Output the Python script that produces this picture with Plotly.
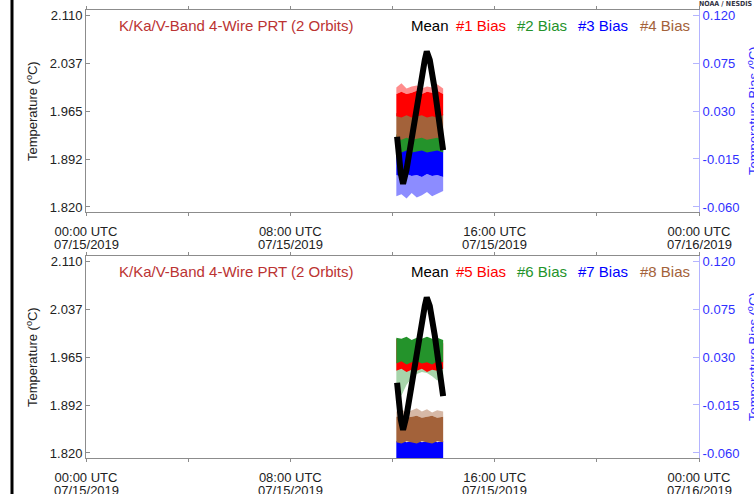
import plotly.graph_objects as go

# ---------------------------------------------------------------- data
X_RANGE = ["2019-07-15 00:00", "2019-07-16 00:00"]
X_TICKS = ["2019-07-15 00:00", "2019-07-15 08:00", "2019-07-15 16:00", "2019-07-16 00:00"]
X_TICK_TIME = ["00:00 UTC", "08:00 UTC", "16:00 UTC", "00:00 UTC"]
X_TICK_DATE = ["07/15/2019", "07/15/2019", "07/15/2019", "07/16/2019"]
X_MINOR_TICKS = ["2019-07-15 04:00", "2019-07-15 12:00", "2019-07-15 20:00"]

TEMP_TICKS = [1.820, 1.892, 1.965, 2.037, 2.110]
TEMP_TICK_TEXT = ["1.820", "1.892", "1.965", "2.037", "2.110"]
BIAS_TICKS = [-0.060, -0.015, 0.030, 0.075, 0.120]
BIAS_TICK_TEXT = ["-0.060", "-0.015", "0.030", "0.075", "0.120"]

# mean 4-wire PRT temperature over the two orbits (deg C)
MEAN_TIME = ["2019-07-15 12:10:45", "2019-07-15 12:15:25", "2019-07-15 12:19:25",
             "2019-07-15 12:24:50", "2019-07-15 12:32:50", "2019-07-15 12:44:35",
             "2019-07-15 12:56:20", "2019-07-15 13:08:05", "2019-07-15 13:15:50",
             "2019-07-15 13:20:30", "2019-07-15 13:27:35", "2019-07-15 13:39:25",
             "2019-07-15 13:49:25", "2019-07-15 13:57:30", "2019-07-15 13:58:55"]
MEAN_TEMP = [1.926, 1.891, 1.871, 1.855, 1.876, 1.921, 1.972, 2.017, 2.042,
             2.055, 2.042, 1.997, 1.956, 1.916, 1.906]

# per-PRT bias envelopes (deg C): dense core and sparse fringe edges
BAND_TIME = ["2019-07-15 12:09", "2019-07-15 12:21", "2019-07-15 12:33", "2019-07-15 12:45",
             "2019-07-15 12:57", "2019-07-15 13:09", "2019-07-15 13:21", "2019-07-15 13:33",
             "2019-07-15 13:45", "2019-07-15 13:59"]

BIAS1_HI = [0.046, 0.048, 0.046, 0.047, 0.049, 0.046, 0.048, 0.047, 0.049, 0.046]
BIAS1_LO = [0.025, 0.024, 0.026, 0.024, 0.025, 0.026, 0.024, 0.025, 0.024, 0.026]
BIAS1_FRINGE = [0.052, 0.056, 0.051, 0.053, 0.054, 0.051, 0.053, 0.052, 0.055, 0.051]
BIAS2_HI = [0.008, 0.009, 0.008, 0.007, 0.009, 0.008, 0.009, 0.007, 0.008, 0.009]
BIAS2_LO = [-0.008, -0.009, -0.007, -0.009, -0.008, -0.007, -0.009, -0.008, -0.007, -0.009]
BIAS3_HI = [-0.005, -0.004, -0.005, -0.004, -0.005, -0.004, -0.005, -0.004, -0.005, -0.004]
BIAS3_LO = [-0.030, -0.032, -0.029, -0.031, -0.030, -0.032, -0.029, -0.031, -0.030, -0.032]
BIAS3_FRINGE = [-0.050, -0.048, -0.052, -0.047, -0.051, -0.049, -0.046, -0.050, -0.048, -0.045]
BIAS4_HI = [0.028, 0.029, 0.027, 0.028, 0.029, 0.028, 0.027, 0.029, 0.028, 0.027]
BIAS4_LO = [0.004, 0.003, 0.005, 0.003, 0.004, 0.005, 0.003, 0.004, 0.005, 0.003]

BIAS5_HI = [0.047, 0.045, 0.046, 0.044, 0.046, 0.045, 0.044, 0.046, 0.045, 0.043]
BIAS5_LO = [0.017, 0.019, 0.016, 0.018, 0.017, 0.019, 0.016, 0.018, 0.017, 0.019]
BIAS6_HI = [0.048, 0.047, 0.049, 0.046, 0.048, 0.047, 0.049, 0.047, 0.048, 0.046]
BIAS6_LO = [0.024, 0.026, 0.023, 0.025, 0.026, 0.024, 0.025, 0.023, 0.026, 0.025]
BIAS6_FRINGE = [0.000, -0.006, 0.004, 0.010, 0.014, 0.016, 0.015, 0.012, 0.008, 0.012]
BIAS7_HI = [-0.049, -0.048, -0.050, -0.049, -0.048, -0.050, -0.049, -0.048, -0.050, -0.049]
BIAS7_LO = [-0.075, -0.075, -0.075, -0.075, -0.075, -0.075, -0.075, -0.075, -0.075, -0.075]
BIAS8_HI = [-0.026, -0.025, -0.027, -0.026, -0.025, -0.027, -0.026, -0.025, -0.027, -0.026]
BIAS8_LO = [-0.050, -0.051, -0.049, -0.050, -0.051, -0.049, -0.050, -0.051, -0.049, -0.050]
BIAS8_FRINGE = [-0.021, -0.019, -0.022, -0.020, -0.018, -0.021, -0.019, -0.022, -0.020, -0.021]

TITLE = "K/Ka/V-Band 4-Wire PRT (2 Orbits)"

# ---------------------------------------------------------------- styling
RED, GREEN, BLUE, BROWN = "#ff0000", "#24932b", "#0000ff", "#a3623a"
TITLE_COLOR = "#bb3333"
AXIS_BLUE = "#3030ff"
AXIS_BLUE_LINE = "#b4b4ff"
GRAY = "#8c8c8c"
TEXT = "#222222"
FONT = "Liberation Sans, Arial, sans-serif"

W, H = 754, 494
ML, MR, MT, MB = 86, 55, 10, 36
PW, PH = W - ML - MR, H - MT - MB
PANELS = [(10, 212), (256, 458)]          # pixel top/bottom of each panel
TOP_DOM = [(H - MB - PANELS[0][1]) / PH, 1.0]
BOT_DOM = [0.0, (H - MB - PANELS[1][0]) / PH]

TEMP_RANGE = [1.8124, 2.1176]
BIAS_RANGE = [-0.0647, 0.1247]


def px_x(px):
    return (px - ML) / PW


def px_y(py):
    return (H - MB - py) / PH


def band(xa, ya, hi, lo, color, opacity=1.0):
    return go.Scatter(x=BAND_TIME + BAND_TIME[::-1], y=hi + lo[::-1],
                      xaxis=xa, yaxis=ya, mode="lines", fill="toself",
                      fillcolor=color, line=dict(width=0, color=color),
                      opacity=opacity, hoverinfo="skip", showlegend=False)


def mean_line(xa, ya):
    return go.Scatter(x=MEAN_TIME, y=MEAN_TEMP, xaxis=xa, yaxis=ya, mode="lines",
                      line=dict(color="black", width=6), showlegend=False)


fig = go.Figure()

# top panel: PRT #1-#4
fig.add_trace(band("x", "y", BIAS1_FRINGE, BIAS1_HI, RED, 0.45))
fig.add_trace(band("x", "y", BIAS3_LO, BIAS3_FRINGE, BLUE, 0.45))
fig.add_trace(band("x", "y", BIAS3_HI, BIAS3_LO, BLUE))
fig.add_trace(band("x", "y", BIAS2_HI, BIAS2_LO, GREEN))
fig.add_trace(band("x", "y", BIAS4_HI, BIAS4_LO, BROWN))
fig.add_trace(band("x", "y", BIAS1_HI, BIAS1_LO, RED))
fig.add_trace(mean_line("x", "y2"))

# bottom panel: PRT #5-#8
fig.add_trace(band("x2", "y3", BIAS8_FRINGE, BIAS8_HI, BROWN, 0.45))
fig.add_trace(band("x2", "y3", BIAS6_LO, BIAS6_FRINGE, GREEN, 0.4))
fig.add_trace(band("x2", "y3", BIAS7_HI, BIAS7_LO, BLUE))
fig.add_trace(band("x2", "y3", BIAS8_HI, BIAS8_LO, BROWN))
fig.add_trace(band("x2", "y3", BIAS5_HI, BIAS5_LO, RED))
fig.add_trace(band("x2", "y3", BIAS6_HI, BIAS6_LO, GREEN))
fig.add_trace(mean_line("x2", "y4"))

xaxis_style = dict(
    type="date", range=X_RANGE, tickmode="array", tickvals=X_TICKS, ticktext=X_TICK_TIME,
    showline=True, linecolor=GRAY, linewidth=1, mirror="ticks", ticks="outside",
    ticklen=3, tickcolor=GRAY, showgrid=False, zeroline=False, automargin=False,
    ticklabelstandoff=4,
    tickfont=dict(family=FONT, size=13, color=TEXT),
    minor=dict(tickmode="array", tickvals=X_MINOR_TICKS, ticks="outside",
               ticklen=3, tickcolor=GRAY, showgrid=False),
)
bias_style = dict(
    side="right", range=BIAS_RANGE, tickmode="array", tickvals=BIAS_TICKS,
    ticktext=BIAS_TICK_TEXT, showline=True, linecolor=AXIS_BLUE_LINE, linewidth=1,
    ticks="inside", ticklen=6, tickcolor=AXIS_BLUE_LINE, showgrid=False, zeroline=False,
    automargin=False, tickfont=dict(family=FONT, size=13, color=AXIS_BLUE),
)
temp_style = dict(
    side="left", range=TEMP_RANGE, tickmode="array", tickvals=TEMP_TICKS,
    ticktext=TEMP_TICK_TEXT, showline=True, linecolor=GRAY, linewidth=1,
    ticks="inside", ticklen=4, tickcolor=GRAY, showgrid=False, zeroline=False,
    automargin=False, tickfont=dict(family=FONT, size=13, color=TEXT),
)

fig.update_layout(
    width=W, height=H,
    margin=dict(l=ML, r=MR, t=MT, b=MB, pad=0, autoexpand=False),
    paper_bgcolor="white", plot_bgcolor="white",
    showlegend=False,
    xaxis=dict(anchor="y", domain=[0, 1], **xaxis_style),
    xaxis2=dict(anchor="y3", domain=[0, 1], **xaxis_style),
    yaxis=dict(anchor="x", domain=TOP_DOM, **bias_style),
    yaxis2=dict(anchor="x", overlaying="y", **temp_style),
    yaxis3=dict(anchor="x2", domain=BOT_DOM, **bias_style),
    yaxis4=dict(anchor="x2", overlaying="y3", **temp_style),
)

annotations = []
legend_rows = [["Mean", "#1 Bias", "#2 Bias", "#3 Bias", "#4 Bias"],
               ["Mean", "#5 Bias", "#6 Bias", "#7 Bias", "#8 Bias"]]
legend_colors = ["black", RED, GREEN, BLUE, BROWN]
legend_x = [409, 454, 515, 576, 638]
for (top, bot), labels, xref in zip(PANELS, legend_rows, ["x", "x2"]):
    ty = top + 15
    annotations.append(dict(text=TITLE, x=px_x(117), y=px_y(ty), xref="paper", yref="paper",
                            xanchor="left", yanchor="middle", showarrow=False,
                            font=dict(family=FONT, size=15, color=TITLE_COLOR)))
    for lab, col, lx in zip(labels, legend_colors, legend_x):
        annotations.append(dict(text=lab, x=px_x(lx), y=px_y(ty), xref="paper", yref="paper",
                                xanchor="left", yanchor="middle", showarrow=False,
                                font=dict(family=FONT, size=15, color=col)))
    # date line under each time tick label
    for tv, dt in zip(X_TICKS, X_TICK_DATE):
        annotations.append(dict(text=dt, x=tv, y=px_y(bot + 32), xref=xref, yref="paper",
                                xanchor="center", yanchor="middle", showarrow=False,
                                font=dict(family=FONT, size=13, color=TEXT)))
    mid = (top + bot) / 2
    annotations.append(dict(text="Temperature (<sup>o</sup>C)", x=px_x(32), y=px_y(mid),
                            xref="paper", yref="paper", xanchor="center", yanchor="middle",
                            textangle=-90, showarrow=False,
                            font=dict(family=FONT, size=13, color=TEXT)))
    annotations.append(dict(text="Temperature Bias (<sup>o</sup>C)", x=px_x(753), y=px_y(mid),
                            xref="paper", yref="paper", xanchor="center", yanchor="middle",
                            textangle=-90, showarrow=False,
                            font=dict(family=FONT, size=13, color=AXIS_BLUE)))

annotations.append(dict(text="<b>NOAA / NESDIS / STAR</b>", x=px_x(697), y=px_y(4),
                        xref="paper", yref="paper", xanchor="left", yanchor="middle",
                        showarrow=False,
                        font=dict(family="Liberation Sans Narrow, DejaVu Sans Condensed, sans-serif",
                                  size=7, color="#333344")))
fig.update_layout(annotations=annotations)

# page border at the left edge
fig.add_shape(type="line", xref="paper", yref="paper", x0=px_x(12), x1=px_x(12),
              y0=px_y(0), y1=px_y(H), line=dict(color="black", width=3))

fig.write_html("out.html")
